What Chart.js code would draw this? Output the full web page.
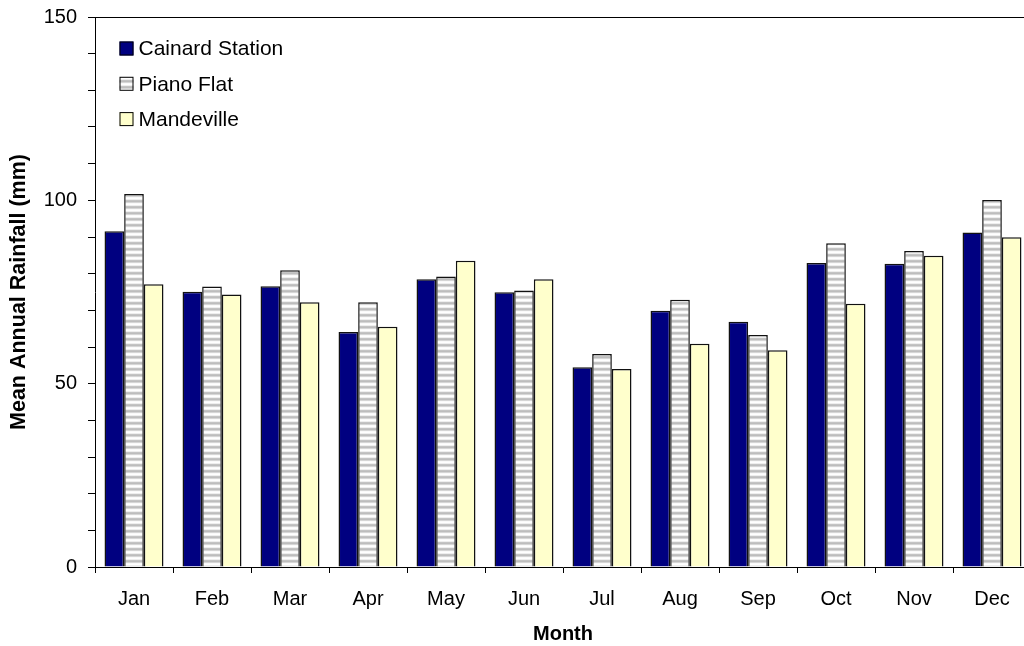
<!DOCTYPE html>
<html>
<head>
<meta charset="utf-8">
<script src="https://cdn.jsdelivr.net/npm/chart.js@4/dist/chart.umd.min.js"></script>
<style>
  html, body { margin: 0; padding: 0; background: #fff; }
  #wrap { width: 1024px; height: 646px; overflow: hidden; }
  canvas { display: block; }
</style>
</head>
<body>
<div id="wrap"><canvas id="rain" width="1034" height="646"></canvas></div>
<script>
var months = ['Jan', 'Feb', 'Mar', 'Apr', 'May', 'Jun', 'Jul', 'Aug', 'Sep', 'Oct', 'Nov', 'Dec'];

var cainard = [91.6, 75.1, 76.6, 64.1, 78.5, 74.9, 54.5, 69.9, 66.9, 82.9, 82.7, 91.2];
var pianoFlat = [101.7, 76.5, 80.9, 72.2, 79.2, 75.4, 58.1, 72.9, 63.3, 88.3, 86.2, 100.1];
var mandeville = [77.1, 74.3, 72.2, 65.5, 83.5, 78.5, 54.0, 60.9, 59.1, 71.8, 84.9, 89.9];

var yLabelTicks = [0, 50, 100, 150];

var FONT = 'Arial, "Liberation Sans", sans-serif';

// horizontal grey stripes for Piano Flat
function stripes() {
  var c = document.createElement('canvas');
  c.width = 8; c.height = 6;
  var g = c.getContext('2d');
  var rows = ['#ffffff', '#eeeeee', '#c4c4c4', '#bdbdbd', '#d6d6d6', '#fafafa'];
  for (var i = 0; i < rows.length; i++) {
    g.fillStyle = rows[i];
    g.fillRect(0, i, 8, 1);
  }
  return g.createPattern(c, 'repeat');
}
var stripeFill = stripes();

// legend drawn in the upper left of the plot
var boxLegend = {
  id: 'boxLegend',
  afterDraw: function (chart) {
    var ctx = chart.ctx;
    var area = chart.chartArea;
    ctx.save();
    ctx.font = '21px ' + FONT;
    ctx.textBaseline = 'middle';
    ctx.textAlign = 'left';
    chart.data.datasets.forEach(function (ds, i) {
      var cy = area.top + 31.5 + i * 35.3;
      var bx = area.left + 24.5;
      ctx.fillStyle = ds.backgroundColor;
      ctx.fillRect(bx, cy - 7, 14, 14);
      ctx.strokeStyle = '#000';
      ctx.lineWidth = 1;
      ctx.strokeRect(bx + 0.5, cy - 6.5, 13, 13);
      ctx.fillStyle = '#000';
      ctx.fillText(ds.label, bx + 19, cy + 1);
    });
    ctx.restore();
  }
};

// line along the top of the plot
var topLine = {
  id: 'topLine',
  afterDraw: function (chart) {
    var ctx = chart.ctx;
    var a = chart.chartArea;
    ctx.save();
    ctx.strokeStyle = '#000';
    ctx.lineWidth = 1;
    ctx.beginPath();
    ctx.moveTo(a.left, a.top + 0.5);
    ctx.lineTo(a.right, a.top + 0.5);
    ctx.stroke();
    ctx.restore();
  }
};

new Chart(document.getElementById('rain'), {
  type: 'bar',
  data: {
    labels: months,
    datasets: [
      { label: 'Cainard Station', data: cainard, backgroundColor: '#000080', borderColor: '#111', borderWidth: 1.5 },
      { label: 'Piano Flat', data: pianoFlat, backgroundColor: stripeFill, borderColor: '#111', borderWidth: 1.5 },
      { label: 'Mandeville', data: mandeville, backgroundColor: '#ffffcc', borderColor: '#111', borderWidth: 1.5 }
    ]
  },
  options: {
    responsive: false,
    animation: false,
    devicePixelRatio: 1,
    layout: { padding: { top: 17, right: 3, left: 0, bottom: 0 } },
    datasets: { bar: { categoryPercentage: 0.756, barPercentage: 1 } },
    plugins: {
      legend: { display: false },
      tooltip: { enabled: false }
    },
    scales: {
      x: {
        grid: { drawOnChartArea: false, tickLength: 6, color: '#000' },
        border: { color: '#000', width: 1 },
        ticks: { color: '#000', font: { family: FONT, size: 20 }, padding: 14, maxRotation: 0 },
        title: { display: true, text: 'Month', color: '#000', font: { family: FONT, size: 20, weight: 'bold' }, padding: { top: 0, bottom: 0 } },
        afterFit: function (s) { s.height = 79; }
      },
      y: {
        min: 0,
        max: 150,
        grid: { drawOnChartArea: false, tickLength: 7, color: '#000' },
        border: { color: '#000', width: 1 },
        ticks: {
          stepSize: 10,
          color: '#000',
          font: { family: FONT, size: 20 },
          padding: 11,
          autoSkip: false,
          callback: function (v) { return yLabelTicks.indexOf(v) >= 0 ? v : ''; }
        },
        title: { display: true, text: 'Mean Annual Rainfall (mm)', color: '#000', font: { family: FONT, size: 21.5, weight: 'bold' }, padding: { top: 6, bottom: 0 } },
        afterFit: function (s) {
          s.width = 95;
          s.paddingTop = 0;
          s.paddingBottom = 0;
        }
      }
    }
  },
  plugins: [boxLegend, topLine]
});
</script>
</body>
</html>
